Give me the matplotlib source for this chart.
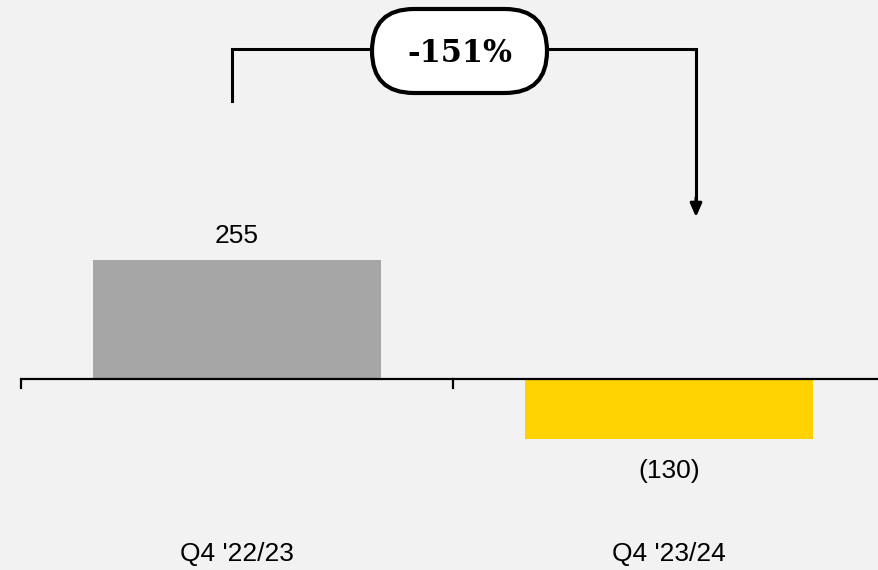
import matplotlib.pyplot as plt
from matplotlib.patches import FancyBboxPatch
from matplotlib.transforms import IdentityTransform

# Quarterly values
categories = ["Q4 '22/23", "Q4 '23/24"]
values = [255, -130]
value_labels = ["255", "(130)"]
change_label = "-151%"
colors = ["#a6a6a6", "#ffd200"]

bg = "#f2f2f2"
fig = plt.figure(figsize=(8.79, 5.70), dpi=100, facecolor=bg)
ax = fig.add_axes([21 / 879, 0, 864 / 879, 1])
ax.set_facecolor(bg)

x = range(len(categories))
ax.bar(x, values, width=2 / 3, color=colors, zorder=2)
ax.set_xlim(-0.5, 1.5)
ax.set_ylim(-411, 815)

# baseline with boundary ticks
ax.axhline(0, color="black", lw=1.6, zorder=3)
for b in [-0.5, 0.5]:
    ax.plot([b, b], [0, -19], color="black", lw=1.6, zorder=3, clip_on=False)

for s in ax.spines.values():
    s.set_visible(False)
ax.set_xticks([])
ax.set_yticks([])

font = "Liberation Sans"
for xi, v, lab in zip(x, values, value_labels):
    off = 26 if v > 0 else -42
    ax.text(xi, v + off, lab, ha="center", va="bottom" if v > 0 else "top",
            fontsize=19, family=font)
for xi, cat in zip(x, categories):
    ax.text(xi, -376, cat, ha="center", va="center", fontsize=19, family=font)

# change bracket
xl, xr = -0.0116, 1.0625
ax.plot([xl, xl, xr, xr], [598, 710, 710, 380], color="black", lw=2.2,
        solid_joinstyle="miter", zorder=3)
ax.annotate("", xy=(xr, 348), xytext=(xr, 390),
            arrowprops=dict(arrowstyle="-|>,head_length=0.8,head_width=0.35",
                            color="black", lw=2.2, shrinkA=0, shrinkB=0))

pill = FancyBboxPatch((372, 477), 175, 84,
                      boxstyle="round,pad=0,rounding_size=42",
                      transform=IdentityTransform(), facecolor="white",
                      edgecolor="black", lw=3, zorder=5)
fig.patches.append(pill)
fig.text(460 / 879, 1 - 54 / 570, change_label, ha="center", va="center",
         fontsize=22, fontweight="bold", family="DejaVu Serif", zorder=6)

fig.savefig("out.png", dpi=100, facecolor=bg)
